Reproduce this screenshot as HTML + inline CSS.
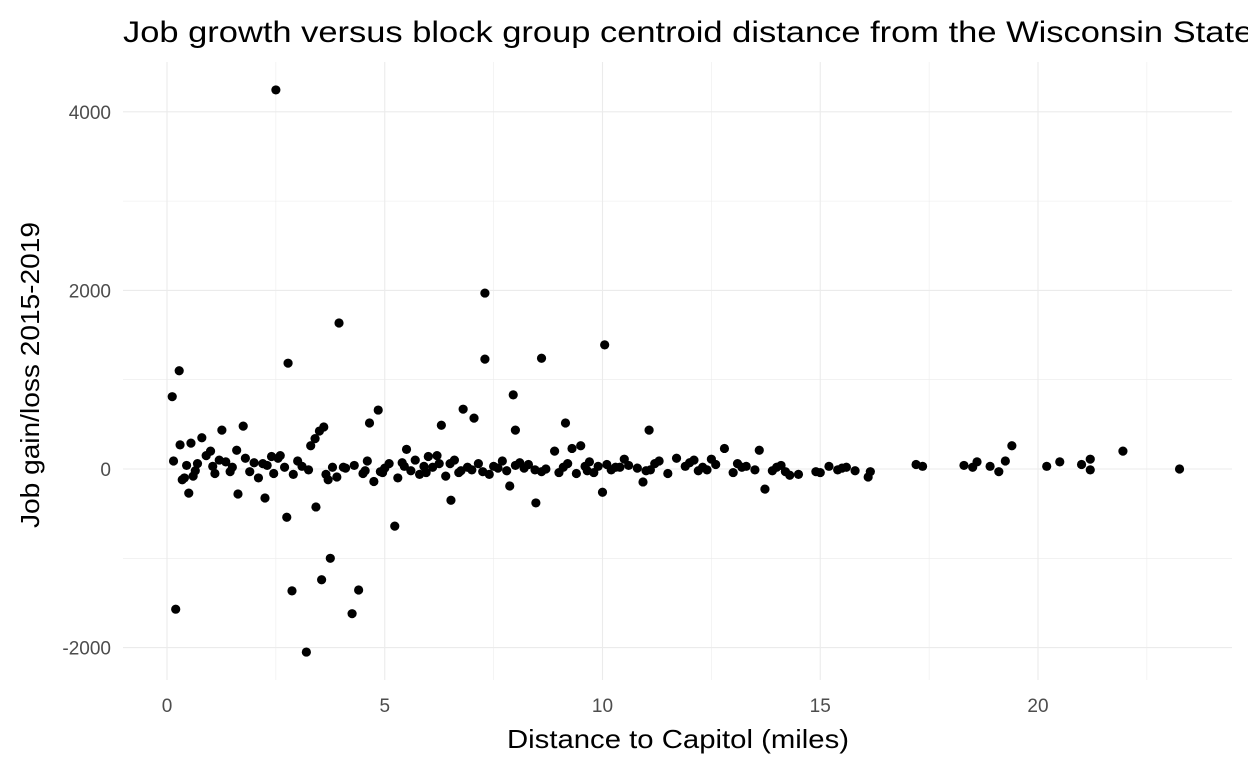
<!DOCTYPE html>
<html><head><meta charset="utf-8"><style>
body{margin:0;background:#fff;width:1248px;height:768px;overflow:hidden}
svg text{font-family:"Liberation Sans",Arial,sans-serif}
</style></head><body>
<svg id="chart" width="1248" height="768" xmlns="http://www.w3.org/2000/svg">
<text x="123" y="42" font-size="30" textLength="1247" lengthAdjust="spacingAndGlyphs" fill="#000">Job growth versus block group centroid distance from the Wisconsin State Capitol</text>
<g id="grid"></g>
<g id="pts"></g>
<g id="ticks"></g>
<text x="507" y="748" font-size="26" textLength="342" lengthAdjust="spacingAndGlyphs" fill="#000">Distance to Capitol (miles)</text>
<text transform="translate(39,528) rotate(-90)" font-size="26" textLength="306" lengthAdjust="spacingAndGlyphs" fill="#000">Job gain/loss 2015-2019</text>
</svg>
<script>
const xVals=[2.5,7.3,3.95,10.05,7.3,8.6,2.78,0.12,0.28,7.95,4.85,6.8,7.05,4.65,3.6,3.5,8.0,11.07,6.3,9.15,1.75,1.26,21.95,23.25,
0.2,3.2,3.75,3.55,4.4,4.25,2.87,2.75,3.42,5.23,8.47,6.52,10.0,2.25,1.63,0.5,13.73,7.87,10.93,
0.15,0.3,0.35,0.45,0.55,0.6,0.7,0.8,0.9,1.0,1.1,1.2,1.35,1.5,1.6,1.8,1.9,2.0,2.1,2.3,2.4,2.6,2.7,2.9,3.0,3.1,3.3,3.4,3.7,3.8,3.9,4.1,4.3,4.5,4.6,4.75,4.9,5.0,5.1,5.3,5.4,5.5,5.6,5.7,5.8,5.9,6.0,6.1,6.2,6.4,6.5,6.6,6.7,6.9,7.0,7.15,7.4,7.5,7.6,7.7,7.8,8.1,8.2,8.3,8.6,8.7,8.9,9.0,9.1,9.3,9.4,9.5,9.6,9.7,9.8,9.9,10.1,10.2,10.3,10.5,10.6,10.8,11.0,11.2,11.3,11.5,11.7,11.9,12.0,12.2,12.3,12.5,12.6,12.8,13.0,13.1,13.3,13.6,13.9,14.1,14.2,14.5,14.9,15.2,15.4,15.6,15.8,16.1,16.15,17.2,17.35,18.3,18.5,18.6,18.9,19.1,19.25,19.4,20.2,20.5,21.0,21.2,21.2,
0.4,0.65,1.05,1.45,2.2,2.45,2.55,3.25,3.65,4.05,4.55,4.95,5.45,5.95,6.25,6.75,7.25,8.0,8.45,9.2,9.65,10.4,11.1,12.1,12.4,13.2,13.5,14.0,14.3,15.0,15.5];
const yVals=[4245,1970,1635,1390,1230,1240,1185,810,1100,830,660,670,570,515,470,425,435,435,490,515,480,435,200,0,
-1570,-2050,-1000,-1240,-1355,-1620,-1365,-540,-425,-640,-380,-350,-260,-325,-280,-270,-225,-190,-145,
90,270,-120,40,290,-80,60,350,150,200,-50,100,80,20,210,120,-30,70,-100,40,140,150,20,-60,90,30,260,340,-120,20,-90,10,40,-50,90,-140,-30,10,60,-100,70,220,-20,100,-60,30,140,20,150,-80,60,100,-40,20,-10,60,-60,30,10,90,-20,70,10,50,-30,0,200,-40,20,230,-50,260,30,80,-40,30,50,-10,20,110,40,10,-20,60,90,-50,120,30,70,-20,20,110,50,230,-40,60,30,210,-20,40,-30,-60,-30,30,-10,20,-20,-90,-30,50,30,40,20,80,30,-30,90,260,30,80,50,110,-10,
-100,-20,30,-30,60,-50,120,-10,-60,20,-20,-40,30,-40,60,-20,-30,40,-10,60,-20,20,-10,100,-10,20,-10,20,-70,-40,10];
const xTicks=[0,5,10,15,20];
const yTicks=[-2000,0,2000,4000];
const L=123,R=1232,T=62,B=680;
const xs=v=>167+v*43.55;
const ys=v=>469-v*0.0893;
const NS="http://www.w3.org/2000/svg";
function mk(tag,attrs,parent){const e=document.createElementNS(NS,tag);for(const k in attrs)e.setAttribute(k,attrs[k]);parent.appendChild(e);return e;}
const grid=document.getElementById('grid'),ticks=document.getElementById('ticks'),pts=document.getElementById('pts');
for(let v=-2.5;v<=25;v+=2.5){const x=xs(v);if(x<L||x>R)continue;const major=xTicks.includes(v);
const ln=mk('line',{x1:x,x2:x,y1:T,y2:B,stroke:'#ebebeb','stroke-width':major?1.1:0.55},grid);

}
for(let v=-3000;v<=5000;v+=1000){const y=ys(v);if(y<T||y>B)continue;const major=yTicks.includes(v);
const ln=mk('line',{x1:L,x2:R,y1:y,y2:y,stroke:'#ebebeb','stroke-width':major?1.1:0.55},grid);

}
xTicks.forEach(v=>{const t=mk('text',{x:xs(v),y:712,'font-size':19,'text-anchor':'middle',fill:'#4d4d4d'},ticks);t.textContent=v;

});
yTicks.forEach(v=>{const t=mk('text',{x:111,y:ys(v)+7,'font-size':19,'text-anchor':'end',fill:'#4d4d4d'},ticks);t.textContent=v;

});
xVals.forEach((xv,i)=>{const c=mk('circle',{cx:xs(xv),cy:ys(yVals[i]),r:4.6,fill:'#000'},pts);

});
</script>
</body></html>
